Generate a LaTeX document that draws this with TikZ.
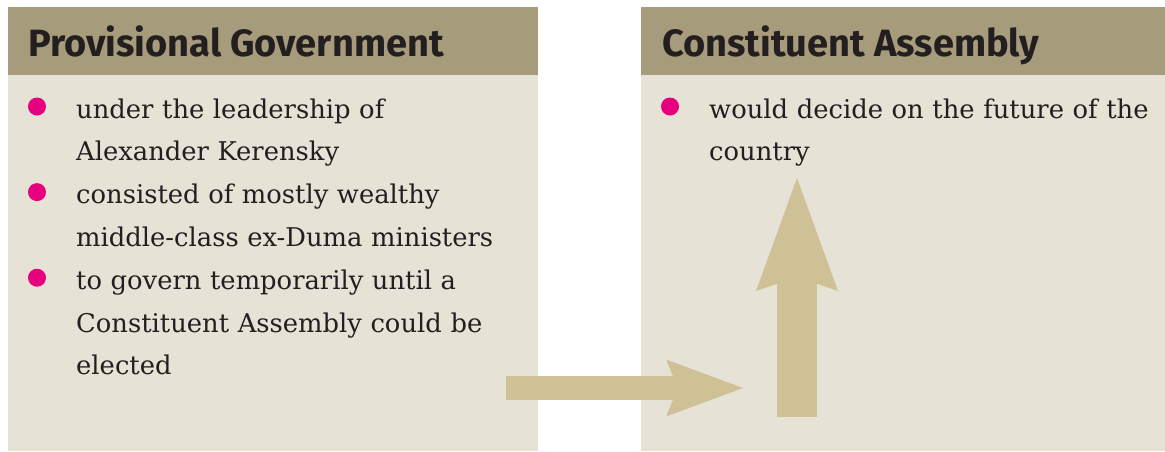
\documentclass[tikz,border=0pt]{standalone}
\usepackage{fontspec}
\setmainfont{DejaVu Serif}
\newfontfamily\headfont{Fira Sans}
\usetikzlibrary{arrows.meta}

\definecolor{hdbrown}{RGB}{166,155,123}
\definecolor{panelbg}{RGB}{230,226,214}
\definecolor{arrtan}{RGB}{207,193,150}
\definecolor{dotpink}{RGB}{230,0,126}
\definecolor{ink}{RGB}{35,31,32}

\begin{document}
\begin{tikzpicture}[
  x=1pt, y=-1pt,
  ttl/.style={anchor=base west, inner sep=0pt, text=ink,
    font=\headfont\bfseries\fontsize{38}{38}\selectfont},           % panel titles
  item/.style={anchor=base west, inner sep=0pt, text=ink, align=left,
    text width=#1, font=\fontsize{25.8}{42.8}\selectfont},          % bullet texts
  dot/.style={circle, fill=dotpink, minimum size=18pt, inner sep=0pt},
  hflow/.style={draw=arrtan, line width=24pt,
    -{Stealth[length=77pt, width=57pt, inset=12pt, line width=0pt, fill=arrtan]}},
  vflow/.style={draw=arrtan, line width=40pt,
    -{Stealth[length=113pt, width=82pt, inset=14pt, line width=0pt, fill=arrtan]}}
]
\useasboundingbox (0,0) rectangle (1165,451);

% Panels
\fill[panelbg] (8,75) rectangle (538,451);
\fill[panelbg] (641,75) rectangle (1165,451);
\fill[hdbrown] (8,7) rectangle (538,75);
\fill[hdbrown] (641,7) rectangle (1165,75);

% Titles
\node[ttl] (pgTitle) at (28,56)  {Provisional Government};
\node[ttl] (caTitle) at (662,56) {Constituent Assembly};

% Bullet points (left)
\node[dot] (d1) at (37,106.5) {};
\node[item=450pt] (i1) at (76,118) {under the leadership of\\Alexander Kerensky};
\node[dot] (d2) at (37,192.1) {};
\node[item=450pt] (i2) at (76,203.6) {consisted of mostly wealthy\\middle-class ex-Duma ministers};
\node[dot] (d3) at (37,277.7) {};
\node[item=450pt] (i3) at (76,289.2) {to govern temporarily until a\\Constituent Assembly could be\\elected};

% Bullet point (right)
\node[dot] (d4) at (670,106.5) {};
\node[item=450pt] (i4) at (709,118) {would decide on the future of the\\country};

% Flow arrows
\coordinate (hStart) at (506,388);
\coordinate (hEnd)   at (743,388);
\coordinate (vStart) at (797,417);
\coordinate (vEnd)   at (797,178);
\draw[hflow] (hStart) -- (hEnd);
\draw[vflow] (vStart) -- (vEnd);

\end{tikzpicture}
\end{document}
